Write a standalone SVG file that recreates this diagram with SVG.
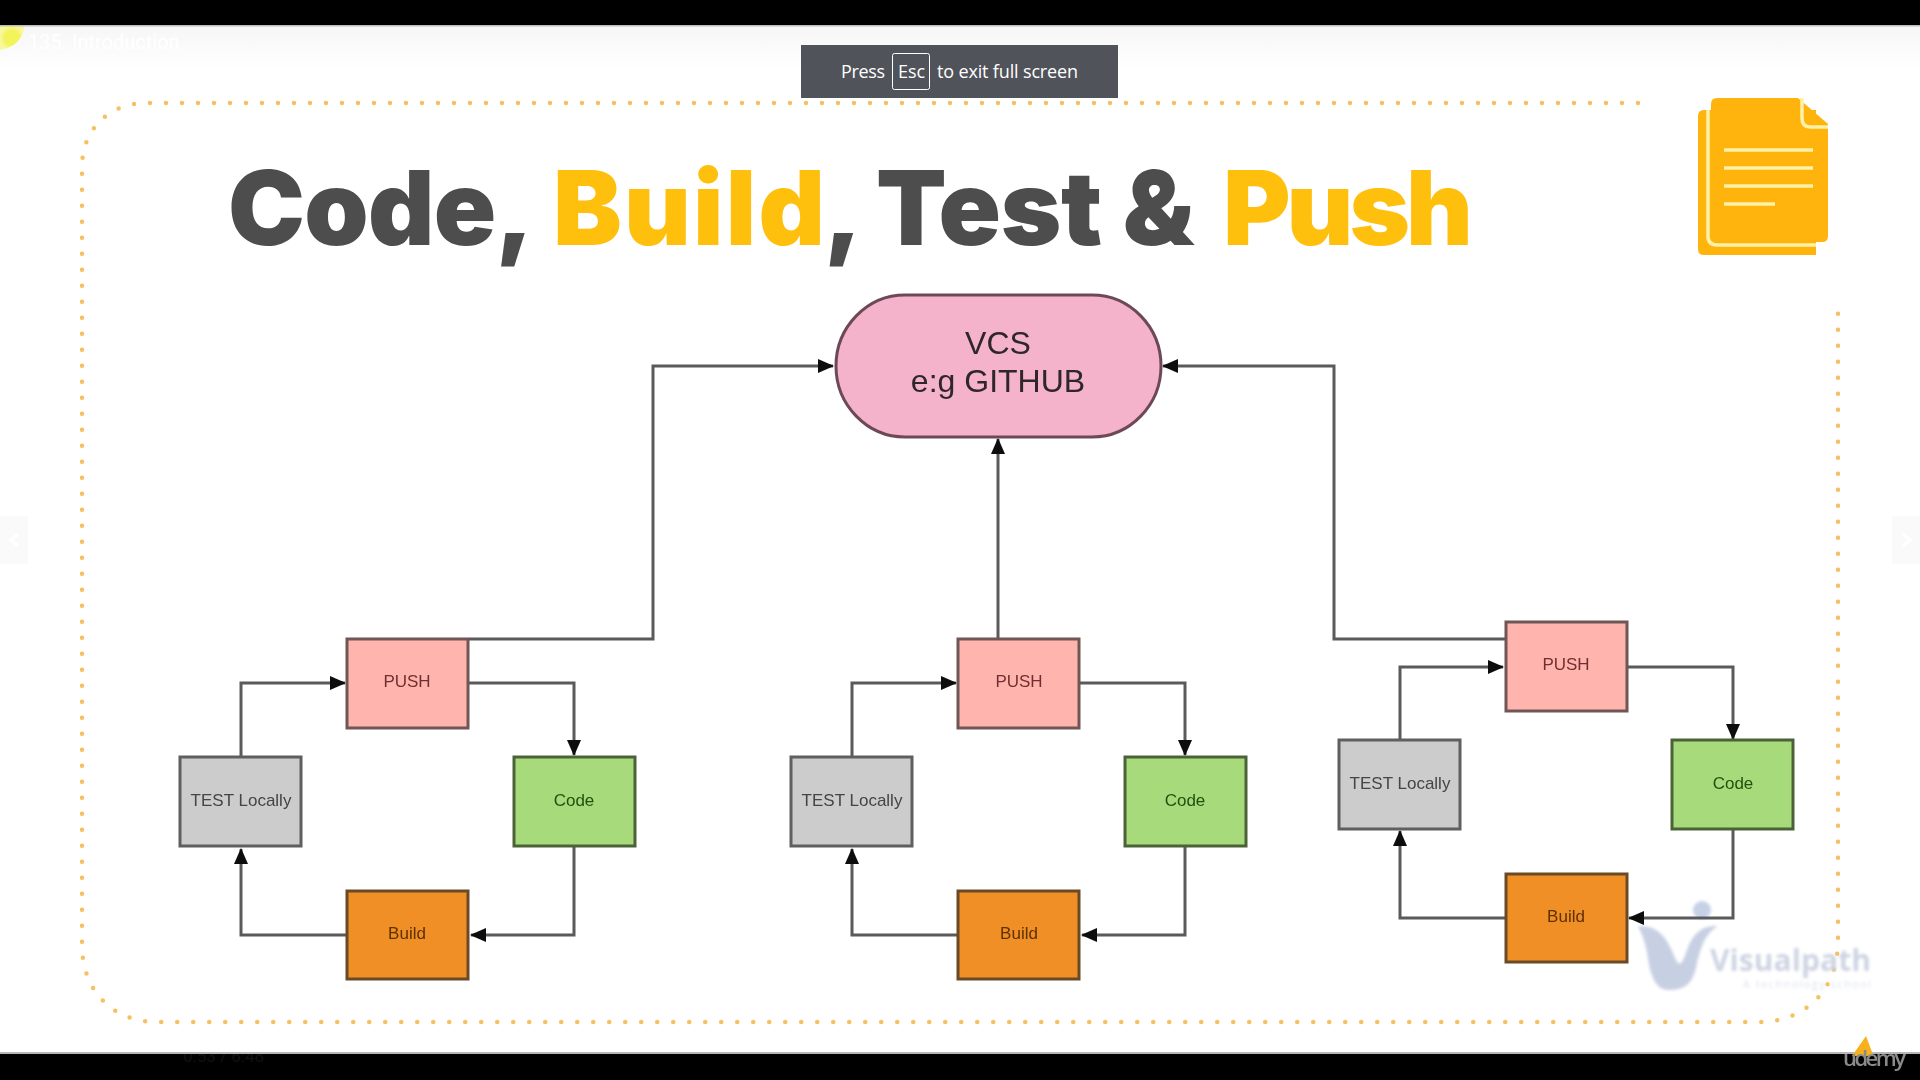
<svg xmlns="http://www.w3.org/2000/svg" width="1920" height="1080" viewBox="0 0 1920 1080">
<style>
.t{font-family:"Liberation Sans",Arial,sans-serif;text-anchor:middle;font-size:17px}
.box{stroke-width:3}
.push{fill:#ffb5ae;stroke:#6f5755}.test{fill:#cccccc;stroke:#5e5e5e}.code{fill:#a6da7a;stroke:#4c6238}.build{fill:#ef8f26;stroke:#6a4a26}
.tp{fill:#6f2f30}.tt{fill:#444}.tc{fill:#24500f}.tb{fill:#5e3000}
.c{fill:none;stroke:#5a5a5a;stroke-width:3;marker-end:url(#a)}
.title{font-family:Inter,"Liberation Sans",sans-serif;font-weight:900;font-size:103px}
.d{fill:#4d4d4d}.y{fill:#ffbf0f}
.dots{fill:none;stroke:#f5c163;stroke-width:4.500;stroke-linecap:round;stroke-dasharray:0 16}
.l{stroke:#fff1a8;stroke-width:3.500;fill:none}
.f{font-family:"Open Sans","Noto Sans",sans-serif;font-size:18px;fill:#fff}
</style>
<defs>
<marker id="a" markerUnits="userSpaceOnUse" markerWidth="18" markerHeight="14" refX="15" refY="7" orient="auto"><path d="M0 0L16 7L0 14Z" fill="#0c0c0c"/></marker>
<filter id="b" x="-5%" y="-5%" width="110%" height="110%"><feGaussianBlur stdDeviation="0.7"/></filter>
<filter id="bb" x="-10%" y="-10%" width="120%" height="120%"><feGaussianBlur stdDeviation="1.5"/></filter>
<clipPath id="barclip"><rect y="1054" width="1920" height="26"/></clipPath>
<linearGradient id="top" x1="0" y1="0" x2="0" y2="1"><stop offset="0" stop-color="#f6f6f6"/><stop offset="1" stop-color="#ffffff"/></linearGradient>
<radialGradient id="ye"><stop offset="0.6" stop-color="#f3f35a"/><stop offset="1" stop-color="#f8f8a0"/></radialGradient>
</defs>
<rect width="1920" height="1080" fill="#fff"/>
<g id="chrome-top">
<rect y="25" width="1920" height="45" fill="url(#top)"/>
<path d="M0 26H24C24 38 14 48 0 50Z" fill="url(#ye)" filter="url(#b)"/>
<text x="28" y="49" font-family="Roboto,sans-serif" font-size="20" fill="#ffffff" filter="url(#b)">135. Introduction</text>
<rect x="0" y="516" width="28" height="48" fill="#fafafa"/><path d="M18 534L11 540L18 546" fill="none" stroke="#fff" stroke-width="3"/>
<rect x="1892" y="516" width="28" height="48" fill="#fafafa"/><path d="M1903 534L1910 540L1903 546" fill="none" stroke="#fff" stroke-width="3"/>
</g>
<g id="frame"><path class="dots" filter="url(#b)" d="M1638 103H147C108 103 82 130 82 167V945C82 990 112 1022 157 1022H1758C1806 1022 1838 990 1838 940V312"/></g>
<g id="title" class="title" filter="url(#b)">
<text class="d" x="228" y="245" textLength="306">Code,</text>
<text class="y" x="553" y="245" textLength="272">Build</text>
<text class="d" x="824" y="245">,</text>
<text class="d" x="876" y="245" textLength="318">Test &amp;</text>
<text class="y" x="1223" y="245" textLength="250">Push</text>
</g>
<g id="doc-icon" filter="url(#b)">
<path d="M1708 110H1816V255H1704Q1698 255 1698 249V116Q1698 110 1704 110Z" fill="#ffb40a"/>
<path d="M1711 104Q1711 98 1717 98H1798L1828 124V236Q1828 242 1822 242H1717Q1711 242 1711 236Z" fill="#ffb40a"/>
<path class="l" d="M1708 110V236Q1708 245 1717 245H1816"/>
<path class="l" d="M1802 98V118Q1802 127 1810 127H1828"/>
<path class="l" d="M1724 150H1813M1724 168H1813M1724 186H1813M1724 204H1775"/>
</g>
<g id="watermark" filter="url(#bb)" opacity="0.95">
<circle cx="1702" cy="910" r="9" fill="#c3cfe6"/>
<path d="M1638 926C1660 925 1668 940 1675 958C1680 968 1682 964 1687 950C1692 936 1700 925 1718 926C1704 934 1700 950 1696 968C1692 985 1684 990 1668 990C1656 990 1650 975 1648 958C1646 944 1642 934 1638 926Z" fill="#c5cee2"/>
<text x="1710" y="971" font-family="'Open Sans',sans-serif" font-weight="700" font-size="30" fill="#ccd2e2" textLength="161">Visualpath</text>
<text x="1743" y="988" font-family="'Open Sans',sans-serif" font-size="10.5" fill="#dde1ec" textLength="128">A technology school</text>
</g>
<g id="connectors" filter="url(#b)">
<path class="c" d="M469 639H653V366H833"/>
<path class="c" d="M998 639V439"/>
<path class="c" d="M1505 639H1334V366H1163"/>
<path class="c" d="M241 757V683H345"/><path class="c" d="M469 683H574V755"/><path class="c" d="M574 847V935H471"/><path class="c" d="M347 935H241V849"/>
<path class="c" d="M852 757V683H956"/><path class="c" d="M1080 683H1185V755"/><path class="c" d="M1185 847V935H1082"/><path class="c" d="M958 935H852V849"/>
<path class="c" d="M1400 741V667H1503"/><path class="c" d="M1627 667H1733V739"/><path class="c" d="M1733 829V918H1629"/><path class="c" d="M1505 918H1400V831"/>
</g>
<g id="vcs" filter="url(#b)">
<path d="M905 295H1092C1130 295 1161 327 1161 366C1161 405 1130 437 1092 437H905C867 437 836 405 836 366C836 327 867 295 905 295Z" fill="#f4b3ca" stroke="#6d4a58" stroke-width="3"/>
<text class="t" x="998" y="354" style="font-size:32px" fill="#2f2629">VCS</text>
<text class="t" x="998" y="392" style="font-size:32px" fill="#2f2629">e:g GITHUB</text>
</g>
<g id="push-1" filter="url(#b)"><rect class="box push" x="347" y="639" width="121" height="89"/><text class="t tp" x="407" y="687">PUSH</text></g>
<g id="test-1" filter="url(#b)"><rect class="box test" x="180" y="757" width="121" height="89"/><text class="t tt" x="241" y="806">TEST Locally</text></g>
<g id="code-1" filter="url(#b)"><rect class="box code" x="514" y="757" width="121" height="89"/><text class="t tc" x="574" y="806">Code</text></g>
<g id="build-1" filter="url(#b)"><rect class="box build" x="347" y="891" width="121" height="88"/><text class="t tb" x="407" y="939">Build</text></g>
<g id="push-2" filter="url(#b)"><rect class="box push" x="958" y="639" width="121" height="89"/><text class="t tp" x="1019" y="687">PUSH</text></g>
<g id="test-2" filter="url(#b)"><rect class="box test" x="791" y="757" width="121" height="89"/><text class="t tt" x="852" y="806">TEST Locally</text></g>
<g id="code-2" filter="url(#b)"><rect class="box code" x="1125" y="757" width="121" height="89"/><text class="t tc" x="1185" y="806">Code</text></g>
<g id="build-2" filter="url(#b)"><rect class="box build" x="958" y="891" width="121" height="88"/><text class="t tb" x="1019" y="939">Build</text></g>
<g id="push-3" filter="url(#b)"><rect class="box push" x="1506" y="622" width="121" height="89"/><text class="t tp" x="1566" y="670">PUSH</text></g>
<g id="test-3" filter="url(#b)"><rect class="box test" x="1339" y="740" width="121" height="89"/><text class="t tt" x="1400" y="789">TEST Locally</text></g>
<g id="code-3" filter="url(#b)"><rect class="box code" x="1672" y="740" width="121" height="89"/><text class="t tc" x="1733" y="789">Code</text></g>
<g id="build-3" filter="url(#b)"><rect class="box build" x="1506" y="874" width="121" height="88"/><text class="t tb" x="1566" y="922">Build</text></g>
<g id="bars">
<rect width="1920" height="25" fill="#000"/>
<rect y="1054" width="1920" height="26" fill="#000"/>
<rect y="1052" width="1920" height="2" fill="#999" opacity="0.7"/>
<rect y="25" width="1920" height="1.500" fill="#999" opacity="0.6"/>
<text x="183" y="1062" font-family="Roboto,sans-serif" font-size="17" fill="#101010" clip-path="url(#barclip)">0:53 / 6:48</text>
</g>
<g id="udemy" filter="url(#b)">
<path d="M1852 1056L1866 1036L1872 1052V1056Z" fill="#f5b21c"/>
<text x="1843" y="1066" font-family="'Open Sans',sans-serif" font-weight="600" font-size="22" fill="#8a8a8a" textLength="63">udemy</text>
</g>
<g id="fullscreen-notice">
<rect x="801" y="45" width="317" height="53" fill="#50535a"/>
<rect x="892.500" y="53.500" width="37" height="36" rx="2" fill="none" stroke="#fff"/>
<text class="f" x="841" y="78" textLength="44">Press</text>
<text class="f" x="898" y="78" textLength="27">Esc</text>
<text class="f" x="937" y="78" textLength="141">to exit full screen</text>
</g>
</svg>
